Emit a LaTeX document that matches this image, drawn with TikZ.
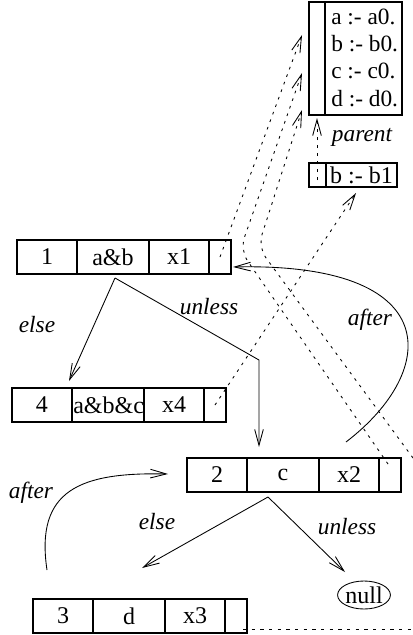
\documentclass[tikz,border=0pt]{standalone}
\usepackage{fontspec}
\setmainfont{Liberation Serif}
\usetikzlibrary{arrows.meta,calc,shapes.geometric}
\newcommand\myrec[6]{%
  \node[cell,minimum width=45pt] (#1a) at (#2,#3) {#4};
  \node[cell,minimum width=54pt] (#1b) at (#1a.north east) {#5};
  \node[cell,minimum width=45pt] (#1c) at (#1b.north east) {#6};
  \node[cell,minimum width=16.5pt] (#1d) at (#1c.north east) {};
}
\begin{document}
\begin{tikzpicture}[x=0.75pt,y=-0.75pt,
  txt/.style={font=\fontsize{17.5}{21}\selectfont, inner sep=0pt},
  itl/.style={font=\fontsize{17.5}{21}\selectfont\itshape, inner sep=0pt},
  cell/.style={draw, line width=0.8pt, minimum height=25.5pt, inner sep=0pt, outer sep=0pt,
    anchor=north west, font=\fontsize{18}{21}\selectfont},
  arr/.style={-{Straight Barb[length=12pt,width=6.5pt]}, line width=0.65pt},
  dot/.style={arr, dash pattern=on 2pt off 4pt}
]
\useasboundingbox (0,0) rectangle (413,635);

% environment box
\node[cell, minimum width=12pt, minimum height=84.75pt] (envl) at (309,2) {};
\node[cell, minimum width=57.75pt, minimum height=84.75pt] (envr) at (envl.north east) {};
\node[txt, anchor=base west] (ea) at (331,25) {a :- a0.};
\node[txt, anchor=base west] (eb) at (331,52) {b :- b0.};
\node[txt, anchor=base west] (ec) at (331,79) {c :- c0.};
\node[txt, anchor=base west] (ed) at (331,106) {d :- d0.};

% b :- b1 box
\node[cell, minimum width=12.75pt, minimum height=18pt] (bl) at (309,163) {};
\node[cell, minimum width=53.25pt, minimum height=18pt] (br) at (bl.north east) {b :- b1};
\node[itl] (par) at (362,137) {parent};

% records
\myrec{p}{17}{240}{1}{a\&b}{x1}
\myrec{q}{12}{388}{4}{\makebox[54pt][l]{\hspace{1pt}a\&b\&c}}{x4}
\myrec{r}{187}{458}{2}{c}{x2}
\myrec{s}{33}{599}{3}{d}{x3}

\node[draw, ellipse, line width=0.65pt, minimum width=33pt, minimum height=21pt, inner sep=0pt,
  font=\fontsize{18}{21}\selectfont] (null) at (364,595) {null};

% coordinates
\coordinate (ap1) at (115,278);
\coordinate (t4) at (69,381);
\coordinate (k1) at (259,360);
\coordinate (t2) at (259,447);
\coordinate (ap2) at (268,497);
\coordinate (t3) at (142,568);
\coordinate (tn) at (345,572);
\coordinate (s1) at (346,442);
\coordinate (e1) at (233,267);
\coordinate (s2) at (47,570);
\coordinate (e2) at (168,474);

% solid connectors
\draw[arr] (ap1) -- (t4);
\draw[arr] (ap1) -- (k1) -- (t2);
\draw[arr] (ap2) -- (t3);
\draw[arr] (ap2) -- (tn);
\draw[arr] (s1) .. controls (440,370) and (445,262) .. (e1);
\draw[arr] (s2) .. controls (35,490) and (80,472) .. (e2);

% labels
\node[itl] (l1) at (37,325) {else};
\node[itl] (l2) at (209,307) {unless};
\node[itl] (l3) at (370,320) {after};
\node[itl] (l4) at (31,493) {after};
\node[itl] (l5) at (157,522) {else};
\node[itl] (l6) at (347,527) {unless};

% dotted pointers
\coordinate (a1) at (302,35);
\coordinate (a2) at (302,73);
\coordinate (a3) at (302,110);
\coordinate (a4) at (356,193);
\coordinate (a5) at (317,118);
\coordinate (c2) at (388,464);
\coordinate (edge1) at (413,458);
\coordinate (c3) at (243,629);
\coordinate (edge2) at (413,629);
\coordinate (b1s) at (317,180);

\draw[dot] (pd.center) -- (a1);
\draw[dot, rounded corners=10] (c2) -- (240,250) -- (a2);
\draw[dot, rounded corners=10] (edge1) -- (258,247) -- (a3);
\draw[dot] (qd.center) -- (a4);
\draw[dot] (b1s) -- (a5);
\draw[line width=0.65pt, dash pattern=on 2.5pt off 4pt] (c3) -- (edge2);
\end{tikzpicture}
\end{document}
